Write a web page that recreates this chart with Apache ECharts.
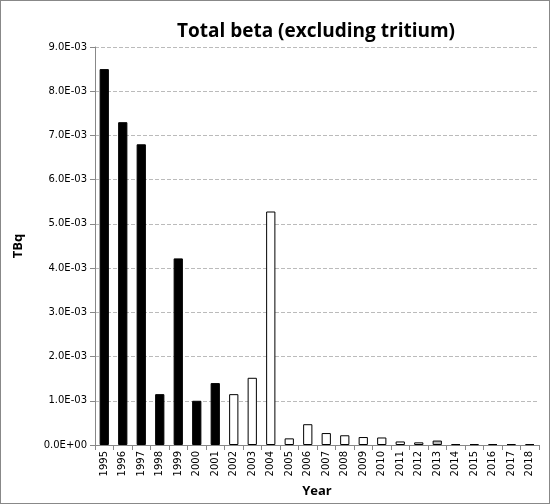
<!DOCTYPE html>
<html><head><meta charset="utf-8">
<script src="https://cdn.jsdelivr.net/npm/echarts@6/dist/echarts.min.js"></script>
<style>html,body{margin:0;padding:0;background:#fff}#c{width:550px;height:504px;box-sizing:border-box;border:1px solid #888}</style>
</head><body><div id="c"></div>
<script>
const years = ['1995','1996','1997','1998','1999','2000','2001','2002','2003','2004','2005','2006','2007','2008','2009','2010','2011','2012','2013','2014','2015','2016','2017','2018'];
const values = [8.5e-3,7.3e-3,6.8e-3,1.15e-3,4.22e-3,1.0e-3,1.4e-3,1.15e-3,1.52e-3,5.28e-3,0.15e-3,0.47e-3,0.27e-3,0.22e-3,0.18e-3,0.17e-3,0.08e-3,0.06e-3,0.1e-3,0.02e-3,0.02e-3,0.02e-3,0.02e-3,0.02e-3];
const fills = years.map((y,i)=> i<=6 ? '#000' : (y==='2013' ? '#bbb' : '#fff'));
const chart = echarts.init(document.getElementById('c'));
chart.setOption({
  animation:false,
  title:{text:'Total beta (excluding tritium)',left:310,top:16,textAlign:'center',textStyle:{fontFamily:'Open Sans',fontSize:19,fontWeight:'bold',color:'#000'}},
  grid:{left:94,right:10,top:46,bottom:58},
  xAxis:{type:'category',data:years,name:'Year',nameLocation:'middle',nameGap:40,
    nameTextStyle:{fontFamily:'Open Sans',fontWeight:'bold',fontSize:13,color:'#000'},
    axisLine:{lineStyle:{color:'#888'}},axisTick:{show:true,alignWithLabel:false,lineStyle:{color:'#888'}},
    axisLabel:{rotate:90,interval:0,fontFamily:'DejaVu Sans',fontSize:10,color:'#000',margin:6}},
  yAxis:{type:'value',min:0,max:0.009,interval:0.001,name:'TBq',nameLocation:'middle',nameGap:70,
    nameTextStyle:{fontFamily:'Open Sans',fontWeight:'bold',fontSize:13,color:'#000'},
    axisLine:{show:true,lineStyle:{color:'#888'}},axisTick:{show:true,lineStyle:{color:'#888'}},
    splitLine:{lineStyle:{type:'dashed',color:'#bbb'}},
    axisLabel:{fontFamily:'DejaVu Sans',fontSize:10,color:'#000',formatter:v=>v.toExponential(1).replace('e-','E-0').replace('e+0','E+00').toUpperCase()}},
  series:[{type:'bar',barCategoryGap:'50%',
    data:values.map((v,i)=>({value:v,itemStyle:{color:fills[i],borderColor:'#000',borderWidth:1}}))}]
});
</script></body></html>
